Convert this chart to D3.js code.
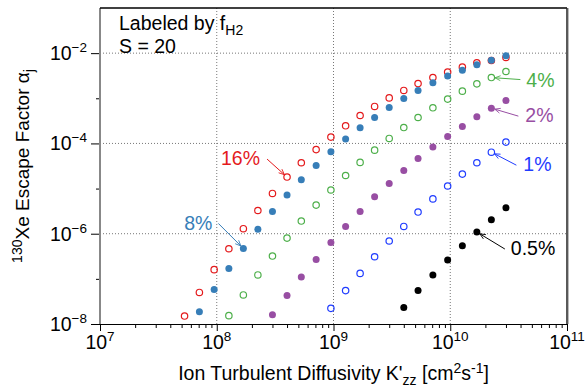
<!DOCTYPE html>
<html>
<head>
<meta charset="utf-8">
<script src="https://cdn.jsdelivr.net/npm/d3@7"></script>
<style>
body { margin: 0; background: #fff; }
svg { display: block; font-family: "Liberation Sans", Helvetica, Arial, sans-serif; }
</style>
</head>
<body>
<div id="chart"></div>
<script>
// set the dimensions and margins of the graph
var margin = {top: 8, right: 20, bottom: 65, left: 100},
    width = 587 - margin.left - margin.right,
    height = 389 - margin.top - margin.bottom;

// ion turbulent diffusivity grid (cm2 s-1)
var kzz = [5.3e7, 7.1e7, 9.5e7, 1.27e8, 1.69e8, 2.25e8, 3.0e8, 4.0e8, 5.3e8, 7.1e8, 9.5e8,
           1.27e9, 1.69e9, 2.25e9, 3.0e9, 4.0e9, 5.3e9, 7.1e9, 9.5e9,
           1.27e10, 1.69e10, 2.25e10, 3.0e10];

// escape factor for each f_H2 (each series ends at the largest kzz)
var alpha16 = [1.50e-8, 5.0e-8, 1.6e-7, 4.65e-7, 1.29e-6, 3.27e-6, 7.8e-6, 1.80e-5, 3.73e-5, 7.3e-5, 1.38e-4,
               2.46e-4, 4.16e-4, 6.6e-4, 1.02e-3, 1.49e-3, 2.12e-3, 2.88e-3, 3.8e-3, 4.9e-3, 6.1e-3, 6.86e-3, 8.0e-3];
var alpha8 = [1.87e-8, 5.8e-8, 1.70e-7, 4.72e-7, 1.25e-6, 3.11e-6, 7.2e-6, 1.57e-5, 3.25e-5, 6.5e-5,
              1.25e-4, 2.22e-4, 3.75e-4, 6.25e-4, 9.9e-4, 1.49e-3, 2.2e-3, 3.1e-3, 4.2e-3, 5.5e-3, 7.0e-3, 8.7e-3];
var alpha4 = [1.53e-8, 4.4e-8, 1.22e-7, 3.2e-7, 8.0e-7, 1.91e-6, 4.3e-6, 9.3e-6, 1.95e-5, 3.8e-5,
              7.1e-5, 1.29e-4, 2.25e-4, 3.75e-4, 6.15e-4, 9.6e-4, 1.44e-3, 2.09e-3, 2.88e-3, 3.92e-3];
var alpha2 = [1.61e-8, 4.3e-8, 1.10e-7, 2.7e-7, 6.4e-7, 1.45e-6, 3.11e-6, 6.6e-6, 1.30e-5,
              2.52e-5, 4.65e-5, 8.3e-5, 1.43e-4, 2.37e-4, 3.89e-4, 6.05e-4, 8.9e-4];
var alpha1 = [2.22e-8, 5.5e-8, 1.32e-7, 3.09e-7, 6.9e-7, 1.45e-6, 3.02e-6, 5.9e-6, 1.14e-5,
              2.09e-5, 3.73e-5, 6.4e-5, 1.07e-4];
var alpha05 = [2.33e-8, 5.5e-8, 1.22e-7, 2.61e-7, 5.4e-7, 1.09e-6, 2.04e-6, 3.76e-6];

var labels = ["16%", "8%", "4%", "2%", "1%", "0.5%"];

var xTicks = [1e7, 1e8, 1e9, 1e10, 1e11];
var xTickExp = ["7", "8", "9", "10", "11"];
var yTicks = [1e-8, 1e-6, 1e-4, 1e-2];
var yTickExp = ["\u22128", "\u22126", "\u22124", "\u22122"];

// series styling + which point the label arrow points to
var series = [
  {values: alpha16, label: labels[0], color: "#e41a1c", open: true,  target: 7,  arrow: [-20, -18], text: [-27, -12], anchor: "end"},
  {values: alpha8,  label: labels[1], color: "#377eb8", open: false, target: 3,  arrow: [-25, -25], text: [-31, -18], anchor: "end"},
  {values: alpha4,  label: labels[2], color: "#4daf4a", open: true,  target: 18, arrow: [29, 2],    text: [35, 9],    anchor: "start"},
  {values: alpha2,  label: labels[3], color: "#984ea3", open: false, target: 15, arrow: [27, 8],    text: [34, 14],   anchor: "start"},
  {values: alpha1,  label: labels[4], color: "#1f3cff", open: true,  target: 11, arrow: [25, 13],   text: [32, 19],   anchor: "start"},
  {values: alpha05, label: labels[5], color: "#000000", open: false, target: 5,  arrow: [28, 17],   text: [34, 23],   anchor: "start"}
];

var svg = d3.select("#chart")
  .append("svg")
  .attr("width", width + margin.left + margin.right)
  .attr("height", height + margin.top + margin.bottom)
  .append("g")
  .attr("transform", "translate(" + margin.left + "," + margin.top + ")");

var x = d3.scaleLog().domain([1e7, 1e11]).range([0, width]);
var y = d3.scaleLog().domain([1e-8, 1e-1]).range([height, 0]);

// grid lines (dotted)
svg.append("g")
  .selectAll("line")
  .data([1e8, 1e9, 1e10])
  .enter().append("line")
  .attr("x1", d => x(d)).attr("x2", d => x(d))
  .attr("y1", 0).attr("y2", height)
  .attr("stroke", "#777").attr("stroke-dasharray", "1,2");

svg.append("g")
  .selectAll("line")
  .data([1e-6, 1e-4, 1e-2])
  .enter().append("line")
  .attr("x1", 0).attr("x2", width)
  .attr("y1", d => y(d)).attr("y2", d => y(d))
  .attr("stroke", "#777").attr("stroke-dasharray", "1,2");

// x axis: minor ticks
var xMinor = [];
for (var e = 7; e < 11; e++) for (var m = 2; m < 10; m++) xMinor.push(m * Math.pow(10, e));

var xAxisMinor = d3.axisBottom(x).tickValues(xMinor).tickSize(4).tickFormat("");
var xAxis = d3.axisBottom(x).tickValues(xTicks).tickSize(7).tickFormat("");

svg.append("g")
  .attr("transform", "translate(0," + height + ")")
  .call(xAxisMinor)
  .call(g => g.select(".domain").remove());

svg.append("g")
  .attr("class", "x axis")
  .attr("transform", "translate(0," + height + ")")
  .call(xAxis)
  .call(g => g.select(".domain").attr("stroke", "#000"));

var xLab = svg.append("g")
  .selectAll("text")
  .data(xTicks)
  .enter().append("text")
  .attr("x", d => x(d))
  .attr("y", height + 25)
  .attr("text-anchor", "middle")
  .style("font-size", "19.5px")
  .attr("fill", "#000");
xLab.append("tspan").text("10");
xLab.append("tspan").attr("dy", -8).style("font-size", "13.5px").text((d, i) => xTickExp[i]);

// y axis
var yAxisMinor = d3.axisLeft(y).tickValues([1e-7, 1e-5, 1e-3]).tickSize(4).tickFormat("");
var yAxis = d3.axisLeft(y).tickValues(yTicks).tickSize(9).tickFormat("");

svg.append("g").call(yAxisMinor).call(g => g.select(".domain").remove())
  .call(g => g.selectAll("line").attr("stroke", "#000"));
svg.append("g").call(yAxis).call(g => g.select(".domain").remove());

var yLab = svg.append("g")
  .selectAll("text")
  .data(yTicks)
  .enter().append("text")
  .attr("x", -13)
  .attr("y", d => y(d) + 7)
  .attr("text-anchor", "end")
  .style("font-size", "19.5px")
  .attr("fill", "#000");
yLab.append("tspan").text("10");
yLab.append("tspan").attr("dy", -8).style("font-size", "13.5px").text((d, i) => yTickExp[i]);

// frame: grey left axis, black top and right
svg.append("line").attr("x1", 0).attr("x2", 0).attr("y1", 0).attr("y2", height)
  .attr("stroke", "#888").attr("stroke-width", 2);
svg.append("line").attr("x1", 0).attr("x2", width).attr("y1", 0).attr("y2", 0)
  .attr("stroke", "#000").attr("stroke-width", 1.5);
svg.append("line").attr("x1", width).attr("x2", width).attr("y1", 0).attr("y2", height)
  .attr("stroke", "#222").attr("stroke-width", 1.5);
svg.append("line").attr("x1", width + 1.5).attr("x2", width + 1.5).attr("y1", 0).attr("y2", height)
  .attr("stroke", "#bbb").attr("stroke-width", 1);

// arrow markers
var defs = svg.append("defs");
series.forEach(function(s, i) {
  defs.append("marker")
    .attr("id", "arr" + i)
    .attr("viewBox", "0 0 10 10")
    .attr("refX", 9).attr("refY", 5)
    .attr("markerWidth", 7).attr("markerHeight", 7)
    .attr("orient", "auto")
    .append("path")
    .attr("d", "M1,1.5 L9,5 L1,8.5")
    .attr("fill", "none")
    .attr("stroke", s.color)
    .attr("stroke-width", 1.2);
});

// points
series.forEach(function(s, i) {
  var xs = kzz.slice(kzz.length - s.values.length);
  var pts = s.values.map((v, j) => ({x: xs[j], y: v}));

  svg.append("g")
    .selectAll("circle")
    .data(pts)
    .enter().append("circle")
    .attr("cx", d => x(d.x))
    .attr("cy", d => y(d.y))
    .attr("r", s.open ? 3.2 : 3.5)
    .attr("fill", s.open ? "none" : s.color)
    .attr("stroke", s.open ? s.color : "none")
    .attr("stroke-width", 1.2);

  // label + arrow
  var t = pts[s.target];
  var tx = x(t.x), ty = y(t.y);
  var sx = tx + s.arrow[0], sy = ty + s.arrow[1];
  var len = Math.sqrt(s.arrow[0] * s.arrow[0] + s.arrow[1] * s.arrow[1]);
  var ex = tx + s.arrow[0] / len * 3.5, ey = ty + s.arrow[1] / len * 3.5;

  svg.append("line")
    .attr("x1", sx).attr("y1", sy)
    .attr("x2", ex).attr("y2", ey)
    .attr("stroke", s.color)
    .attr("stroke-width", 1)
    .attr("marker-end", "url(#arr" + i + ")");

  svg.append("text")
    .attr("x", tx + s.text[0])
    .attr("y", ty + s.text[1])
    .attr("text-anchor", s.anchor)
    .style("font-size", "19.5px")
    .attr("fill", s.color)
    .text(s.label);
});

// top-left note
var note = svg.append("text").attr("x", 19).attr("y", 22).style("font-size", "19.5px");
note.append("tspan").text("Labeled by f");
note.append("tspan").attr("dy", 5).style("font-size", "14px").text("H2");
svg.append("text").attr("x", 19).attr("y", 45).style("font-size", "19.5px").text("S = 20");

// axis titles
var xt = svg.append("text")
  .attr("x", width / 2)
  .attr("y", height + 56)
  .attr("text-anchor", "middle")
  .style("font-size", "19.5px");
xt.append("tspan").text("Ion Turbulent Diffusivity K'");
xt.append("tspan").attr("dy", 5).style("font-size", "14px").text("zz");
xt.append("tspan").attr("dy", -5).text(" [cm");
xt.append("tspan").attr("dy", -7).style("font-size", "14px").text("2");
xt.append("tspan").attr("dy", 7).text("s");
xt.append("tspan").attr("dy", -7).style("font-size", "14px").text("-1");
xt.append("tspan").attr("dy", 7).text("]");

var yt = svg.append("text")
  .attr("transform", "translate(" + (-71) + "," + (height / 2) + ") rotate(-90)")
  .attr("text-anchor", "middle")
  .style("font-size", "19px");
yt.append("tspan").attr("dy", -7).style("font-size", "14px").text("130");
yt.append("tspan").attr("dy", 7).text("Xe Escape Factor \u03b1");
yt.append("tspan").attr("dy", 5).style("font-size", "14px").text("j");
</script>
</body>
</html>
